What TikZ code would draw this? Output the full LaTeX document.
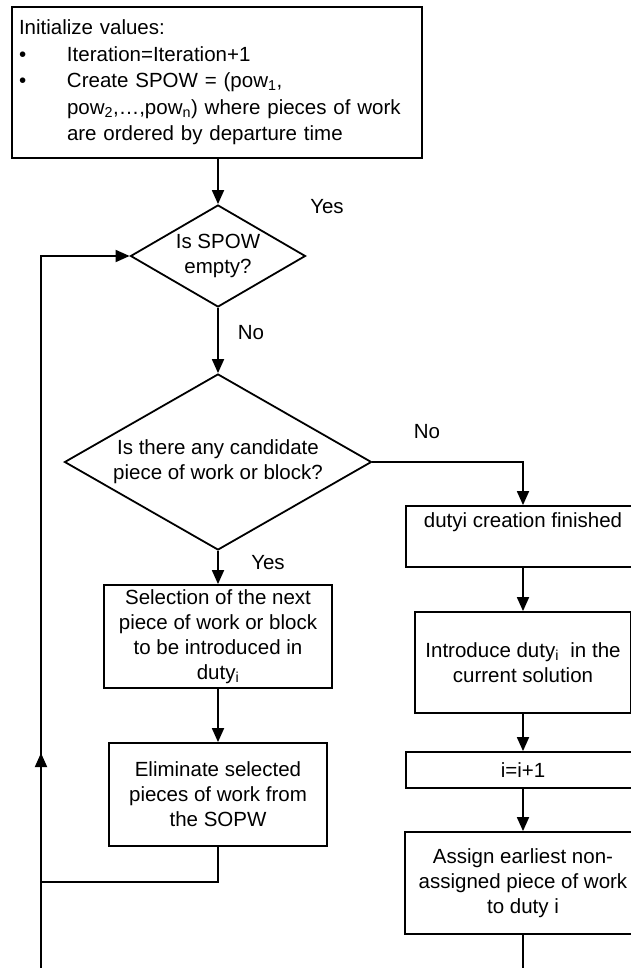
\documentclass[tikz,border=0pt]{standalone}
\usepackage{fontspec}
\setmainfont{Liberation Sans}
\usetikzlibrary{arrows.meta,shapes.geometric}

\begin{document}
\begin{tikzpicture}[x=1pt,y=-1pt,
  every node/.style={font=\fontsize{20.5}{25}\selectfont},
  flowline/.style={line width=1.8pt},
  arrowline/.style={flowline,-{Triangle[length=14pt,width=12pt]}},
  procbox/.style={draw,line width=1.8pt,rectangle,inner sep=0pt,align=center},
  decision/.style={draw,line width=1.8pt,diamond,inner sep=0pt,align=center},
  branchlabel/.style={inner sep=0pt}
]
\useasboundingbox (0,0) rectangle (631,968);
\clip (0,0) rectangle (631,968);

% initialisation block
\node[procbox, align=left, minimum width=410pt, minimum height=151pt,
      text width=396pt, font=\fontsize{20.5}{26.5}\selectfont] (init) at (217,82.5)
  {Initialize values:\\
   \makebox[48pt][l]{\textbullet}Iteration=Iteration+1\\
   \makebox[48pt][l]{\textbullet}Create SPOW = (pow\textsubscript{1},\\
   \hspace*{48pt}pow\textsubscript{2},…,pow\textsubscript{n}) where pieces of work\\
   \hspace*{48pt}are ordered by departure time};

% decisions
\node[decision, minimum width=175pt, minimum height=102pt, aspect=1.72] (empty) at (218,256)
  {Is SPOW\\empty?};
\node[decision, minimum width=307pt, minimum height=176pt, aspect=1.74] (cand) at (218,462)
  {Is there any candidate\\piece of work or block?};

% left branch
\node[procbox, minimum width=228pt, minimum height=103pt] (select) at (218,636.5)
  {Selection of the next\\piece of work or block\\to be introduced in\\duty\textsubscript{i}};
\node[procbox, minimum width=218pt, minimum height=103pt] (elim) at (218,794.5)
  {Eliminate selected\\pieces of work from\\the SOPW};

% right branch
\node[procbox, minimum width=234pt, minimum height=61pt] (done) at (523,536.5)
  {dutyi creation finished\\\strut};
\node[procbox, minimum width=216pt, minimum height=101pt] (intro) at (523,662.5)
  {Introduce duty\textsubscript{i}\ \ in the\\current solution};
\node[procbox, minimum width=234pt, minimum height=36pt] (incr) at (523,770)
  {i=i+1};
\node[procbox, minimum width=236pt, minimum height=102pt] (assign) at (523,883)
  {Assign earliest non-\\assigned piece of work\\to duty i};

% branch labels
\node[branchlabel] (yes1) at (327,207) {Yes};
\node[branchlabel] (no1) at (251,333) {No};
\node[branchlabel] (no2) at (427,432) {No};
\node[branchlabel] (yes2) at (268,563) {Yes};

% loop coordinates
\coordinate (looptop) at (41,256);
\coordinate (loopjoin) at (41,882);
\coordinate (looparrow) at (41,753);
\coordinate (loopbottom) at (41,975);
\coordinate (assignout) at (523,975);

% connectors
\draw[arrowline] (init.south -| empty.north) -- (empty.north);
\draw[arrowline] (empty.south) -- (cand.north);
\draw[arrowline] (cand.south) -- (select.north);
\draw[arrowline] (select.south) -- (elim.north);
\draw[arrowline] (cand.east) -| (done.north);
\draw[arrowline] (done.south) -- (intro.north);
\draw[arrowline] (intro.south) -- (incr.north);
\draw[arrowline] (incr.south) -- (assign.north);
\draw[flowline] (assign.south) -- (assignout);
\draw[flowline] (elim.south) |- (loopjoin);
\draw[arrowline] (loopbottom) -- (looptop) -- (empty.west);
\draw[arrowline] (loopjoin) -- (looparrow);
\end{tikzpicture}
\end{document}
